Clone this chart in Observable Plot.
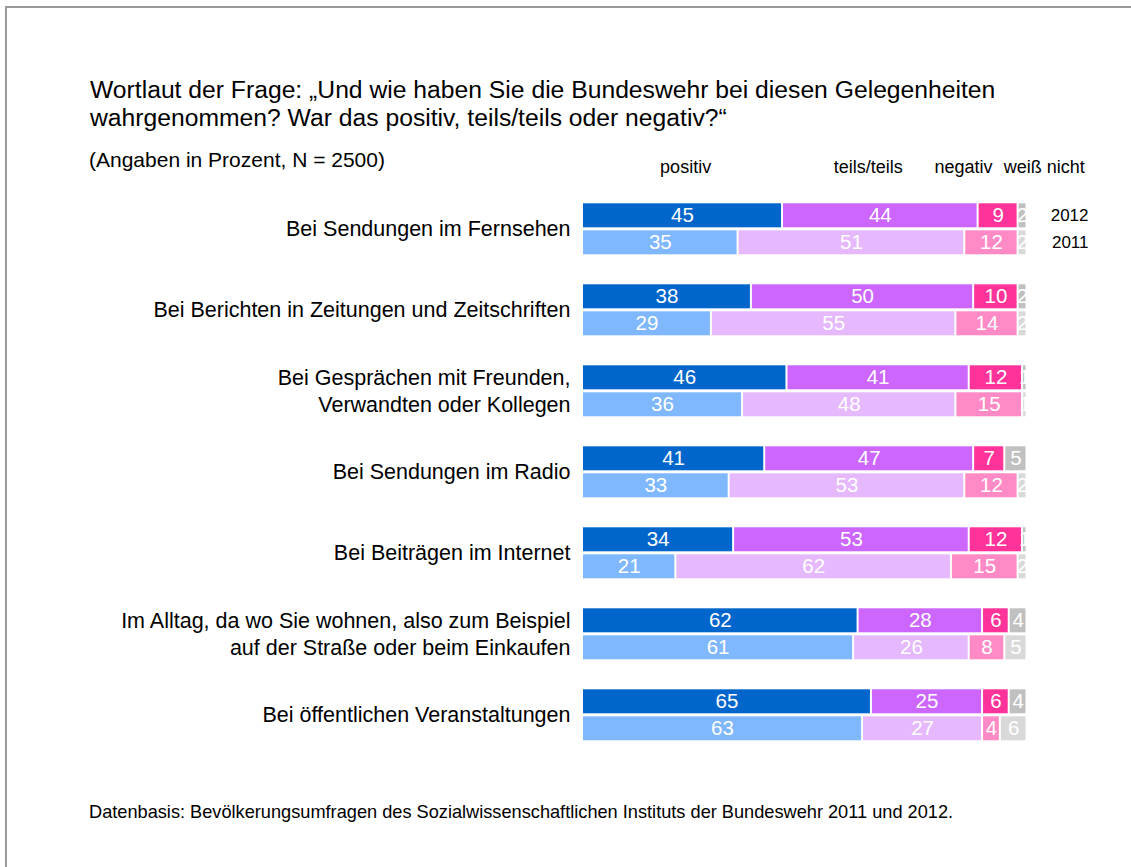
<!DOCTYPE html>
<html>
<head>
<meta charset="utf-8">
<script src="https://cdn.jsdelivr.net/npm/d3@7"></script>
<script src="https://cdn.jsdelivr.net/npm/@observablehq/plot@0.6"></script>
<style>
  body { margin: 0; background: #fff; }
  #page { position: relative; width: 1131px; height: 867px; overflow: hidden; background: #fff;
          font-family: "Liberation Sans", Arial, sans-serif; color: #000; }
  #frame { position: absolute; left: 5px; top: 6px; width: 1300px; height: 1000px;
           border-top: 2px solid #9a9a9a; border-left: 2px solid #9a9a9a; }
  #title { position: absolute; left: 90px; top: 76px; font-size: 24.7px; line-height: 28px; white-space: nowrap; }
  #subtitle { position: absolute; left: 89px; top: 148px; font-size: 21px; line-height: 24px; white-space: nowrap; }
  #chart { position: absolute; left: 0; top: 140px; }
  #footer { position: absolute; left: 89px; top: 802px; font-size: 18.2px; line-height: 20px; white-space: nowrap; }
</style>
</head>
<body>
<div id="page">
  <div id="frame"></div>
  <div id="chart"></div>
  <div id="title">Wortlaut der Frage: „Und wie haben Sie die Bundeswehr bei diesen Gelegenheiten<br>wahrgenommen? War das positiv, teils/teils oder negativ?“</div>
  <div id="subtitle">(Angaben in Prozent, N = 2500)</div>
  <div id="footer">Datenbasis: Bevölkerungsumfragen des Sozialwissenschaftlichen Instituts der Bundeswehr 2011 und 2012.</div>
</div>
<script>
const categories = [
  "Bei Sendungen im Fernsehen",
  "Bei Berichten in Zeitungen und Zeitschriften",
  "Bei Gesprächen mit Freunden,\nVerwandten oder Kollegen",
  "Bei Sendungen im Radio",
  "Bei Beiträgen im Internet",
  "Im Alltag, da wo Sie wohnen, also zum Beispiel\nauf der Straße oder beim Einkaufen",
  "Bei öffentlichen Veranstaltungen"
];
const answers = ["positiv", "teils/teils", "negativ", "weiß nicht"];
const years = ["2012", "2011"];
const values2012 = [
  [45, 44, 9, 2],
  [38, 50, 10, 2],
  [46, 41, 12, 1],
  [41, 47, 7, 5],
  [34, 53, 12, 1],
  [62, 28, 6, 4],
  [65, 25, 6, 4]
];
const values2011 = [
  [35, 51, 12, 2],
  [29, 55, 14, 2],
  [36, 48, 15, 1],
  [33, 53, 12, 2],
  [21, 62, 15, 2],
  [61, 26, 8, 5],
  [63, 27, 4, 6]
];
const colors2012 = ["#0066cc", "#cc66ff", "#ff3399", "#c0c0c0"];
const colors2011 = ["#80b8ff", "#e6b9ff", "#ff8ac6", "#d9d9d9"];

// build table
const data = [];
categories.forEach((cat, i) => {
  years.forEach(yr => {
    const vals = yr === "2012" ? values2012[i] : values2011[i];
    answers.forEach((a, j) => data.push({cat, year: yr, answer: a, key: a + " " + yr, value: vals[j]}));
  });
});
const colorDomain = [...answers.map(a => a + " 2012"), ...answers.map(a => a + " 2011")];
const colorRange = [...colors2012, ...colors2011];

// header label placement along the percentage axis
const headerX = [23.2, 64.3, 85.7, 103.9];
const headers = answers.map((a, i) => ({label: a, x: headerX[i]}));

const font = '"Liberation Sans", Arial, sans-serif';

const chart = Plot.plot({
  width: 1131,
  height: 611,
  marginLeft: 582,
  marginRight: 104.5,
  marginTop: 61.7,
  marginBottom: 10,
  style: {fontFamily: font, fontSize: "21px", background: "transparent", overflow: "visible"},
  x: {domain: [0, 100], axis: null},
  y: {domain: years, axis: null, paddingInner: 0.107, paddingOuter: 0},
  fy: {domain: categories, axis: null, paddingInner: 0.3457, paddingOuter: 0},
  color: {domain: colorDomain, range: colorRange},
  marks: [
    Plot.barX(data, Plot.stackX({x: "value", y: "year", fy: "cat", fill: "key", insetLeft: 1, insetRight: 1})),
    Plot.text(data, Plot.stackX({x: "value", y: "year", fy: "cat", text: d => String(d.value), fill: "white", fontSize: 20.5, clip: true})),
    Plot.text(categories, {fy: d => d, text: d => d, frameAnchor: "left", dx: -12, dy: -1.5, textAnchor: "end", fontSize: 21.5, lineHeight: 1.25, fill: "#000"}),
    Plot.text(headers, {fy: () => categories[0], x: "x", text: "label", frameAnchor: "top", dy: -42, fontSize: 18, fill: "#000"}),
    Plot.text(years, {fy: () => categories[0], y: d => d, text: d => d, frameAnchor: "right", textAnchor: "end", dx: 61.5, fontSize: 17, fill: "#000"})
  ]
});
document.getElementById("chart").appendChild(chart);
</script>
</body>
</html>
